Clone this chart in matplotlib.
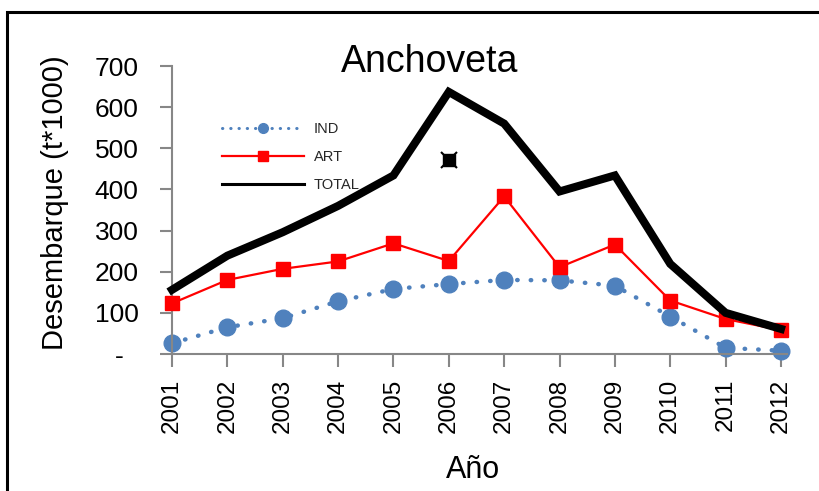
import matplotlib
matplotlib.use("Agg")
import matplotlib.pyplot as plt
from matplotlib.patches import Rectangle
from matplotlib.lines import Line2D

years = [2001, 2002, 2003, 2004, 2005, 2006, 2007, 2008, 2009, 2010, 2011, 2012]
ind = [26, 65, 87, 128, 158, 170, 180, 179, 166, 91, 15, 8]
art = [123, 180, 207, 225, 269, 226, 383, 211, 266, 130, 85, 58]
total = [156, 239, 296, 360, 434, 637, 560, 395, 434, 219, 100, 61]
stray_x = [2006]
stray_y = [471]
yticks = [0, 100, 200, 300, 400, 500, 600, 700]
ytick_labels = ["-  ", "100", "200", "300", "400", "500", "600", "700"]

plt.rcParams['font.family'] = ['Liberation Sans', 'DejaVu Sans']

fig = plt.figure(figsize=(8.2, 4.91), dpi=100)
ax = fig.add_axes([172/820, 1-354/491, (786.5-172)/820, (354-66)/491])

ax.plot(years, ind, color='#4F81BD', lw=3.2, linestyle=(0, (0.1, 2.95)),
        dash_capstyle='round', marker='o', markersize=12, zorder=2, clip_on=False)
ax.plot(years, art, color='#FF0000', lw=1.6, marker='s', markersize=9.5, zorder=3, clip_on=False)
ax.plot(years, total, color='black', lw=5.8, solid_joinstyle='miter', zorder=4, clip_on=False)
ax.plot(stray_x, stray_y, marker='s', color='black', markersize=9, linestyle='none', zorder=5)
ax.plot(stray_x, stray_y, marker='x', color='black', markersize=11, mew=1.5, linestyle='none', zorder=5)

ax.set_xlim(2001, 2012.1)
ax.set_ylim(0, 700)
ax.set_xticks(years)
ax.set_xticklabels([str(y) for y in years], rotation=90, fontsize=17.5)
ax.set_yticks(yticks)
ax.set_yticklabels(ytick_labels, fontsize=19)
for s in ['top', 'right']:
    ax.spines[s].set_visible(False)
for s in ['left', 'bottom']:
    ax.spines[s].set_color('#878787')
    ax.spines[s].set_linewidth(1.5)
ax.tick_params(axis='both', direction='out', length=9, width=1.5, color='#878787')
ax.tick_params(axis='y', pad=15)
ax.tick_params(axis='x', pad=9)

ax.set_ylabel('Desembarque (t*1000)', fontsize=21, va='center')
ax.yaxis.set_label_coords((55-172)/614.5, (354-203)/288)
ax.set_xlabel('Año', fontsize=22, va='center')
ax.xaxis.set_label_coords(0.49, -(470-354)/288)
fig.text(430/820, 1-62/491, 'Anchoveta', fontsize=27, ha='center', va='center')

handles = [
    Line2D([], [], color='#4F81BD', lw=2.2, linestyle=(0, (0.1, 2.6)), dash_capstyle='round',
           marker='o', markersize=7),
    Line2D([], [], color='#FF0000', lw=1.6, marker='s', markersize=7),
    Line2D([], [], color='black', lw=2.2),
]
leg = ax.legend(handles, ['IND', 'ART', 'TOTAL'], loc='upper left',
                bbox_to_anchor=(0.06, 0.85), frameon=False,
                fontsize=10.5, handlelength=5.6, labelspacing=0.95,
                handletextpad=0.7)
for t in leg.get_texts():
    t.set_color('#262626')

fig.patches.append(Rectangle((7/820, -0.1), 1.2, 1 - 12/491 + 0.1, transform=fig.transFigure,
                             fill=False, edgecolor='black', linewidth=2.2, zorder=10))

fig.savefig('out.png', dpi=100)
